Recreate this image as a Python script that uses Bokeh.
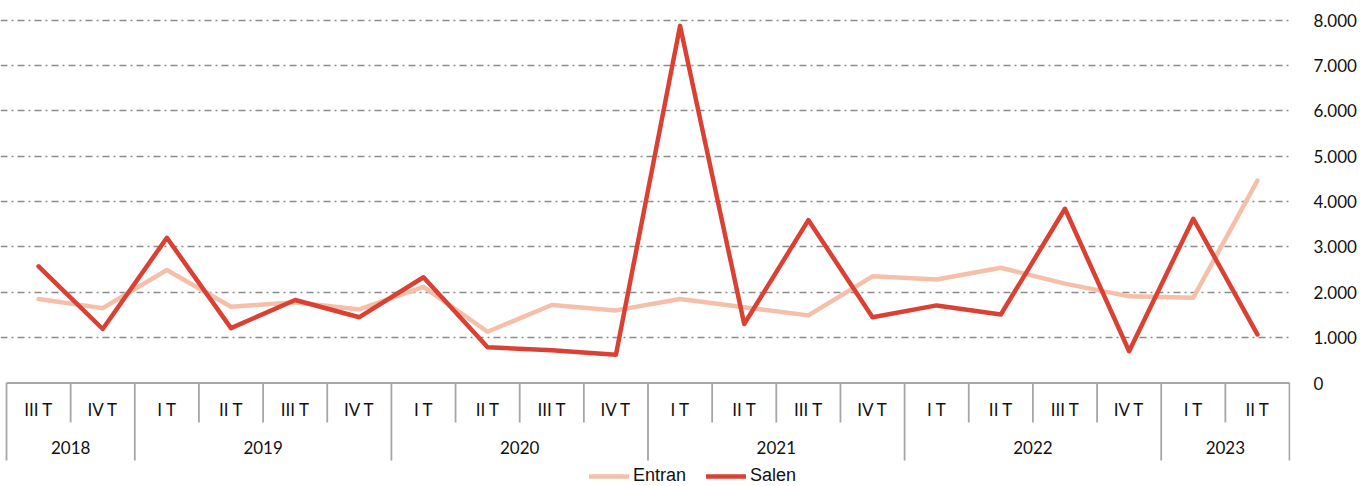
from bokeh.plotting import figure
from bokeh.models import Range1d, FixedTicker, Legend, LegendItem, ColumnDataSource
from bokeh.core.properties import value
from bokeh.embed import file_html
from bokeh.resources import INLINE

# ---------------- data ----------------
quarters = ["III T", "IV T",
            "I T", "II T", "III T", "IV T",
            "I T", "II T", "III T", "IV T",
            "I T", "II T", "III T", "IV T",
            "I T", "II T", "III T", "IV T",
            "I T", "II T"]
years = ["2018", "2018",
         "2019", "2019", "2019", "2019",
         "2020", "2020", "2020", "2020",
         "2021", "2021", "2021", "2021",
         "2022", "2022", "2022", "2022",
         "2023", "2023"]
entran = [1850, 1650, 2490, 1680, 1780, 1620, 2120, 1130, 1720, 1600,
          1850, 1670, 1490, 2350, 2280, 2540, 2190, 1910, 1880, 4460]
salen = [2570, 1190, 3200, 1210, 1830, 1450, 2330, 790, 720, 620,
         7870, 1300, 3590, 1450, 1710, 1510, 3840, 700, 3620, 1070]
series_names = ["Entran", "Salen"]
y_ticks = [0, 1000, 2000, 3000, 4000, 5000, 6000, 7000, 8000]
y_tick_labels = ["0", "1.000", "2.000", "3.000", "4.000", "5.000", "6.000", "7.000", "8.000"]

# ---------------- styling / geometry ----------------
C_ENTRAN = "#F5BFA9"
C_SALEN = "#DB4132"
C_GRID = "#8C8C8C"
C_BOX = "#A6A6A6"
FONT = "Lato"

W, H = 1369, 486
TOP_BORDER = 6
FRAME_RIGHT = 1290
RIGHT_BORDER = W - FRAME_RIGHT
frame_top = TOP_BORDER             # page px
frame_bot = H                      # page px
zero_px = 382.5                    # page px of value 0
px_per_unit = 0.045375             # pixels per unit value
cat_left, cat_right = 6, 1289      # page px of category box edges

y_start = (zero_px - frame_bot) / px_per_unit
y_end = (zero_px - frame_top) / px_per_unit

n = len(quarters)
xs = [i + 0.5 for i in range(n)]
cat_w = (cat_right - cat_left) / n
x_start = -cat_left / cat_w
x_end = n + (FRAME_RIGHT - cat_right) / cat_w

p = figure(width=W, height=H, output_backend="svg", toolbar_location=None,
           x_range=Range1d(x_start, x_end), y_range=Range1d(y_start, y_end),
           x_axis_location=None, y_axis_location="right",
           min_border_left=0, min_border_top=TOP_BORDER, min_border_bottom=0,
           min_border_right=RIGHT_BORDER)
p.extra_y_ranges = {"px": Range1d(start=frame_bot, end=frame_top)}
p.outline_line_color = None
p.background_fill_color = "white"
p.border_fill_color = "white"

# grid
p.xgrid.visible = False
p.ygrid.ticker = FixedTicker(ticks=y_ticks[1:])
p.ygrid.grid_line_color = C_GRID
p.ygrid.grid_line_width = 1.3
p.ygrid.grid_line_dash = "7 4 2 4"

# right axis
ax = p.yaxis[0]
ax.ticker = FixedTicker(ticks=y_ticks)
ax.major_label_overrides = {t: l for t, l in zip(y_ticks, y_tick_labels)}
ax.major_tick_line_color = None
ax.minor_tick_line_color = None
ax.axis_line_color = None
ax.major_label_standoff = 17
ax.major_label_text_font = FONT
ax.major_label_text_font_size = "17px"
ax.major_label_text_color = "#111111"

# category box (drawn in page-pixel y units)
box_top = zero_px
q_sep_bot = 422
y_sep_bot = 460
bounds = [0] + [i for i in range(1, n) if years[i] != years[i - 1]] + [n]
q_seps = [i for i in range(1, n) if i not in bounds]

p.segment(x0=[0], y0=[box_top], x1=[n], y1=[box_top], y_range_name="px",
          line_color=C_BOX, line_width=1.8)
p.segment(x0=q_seps, y0=[box_top] * len(q_seps), x1=q_seps, y1=[q_sep_bot] * len(q_seps),
          y_range_name="px", line_color=C_BOX, line_width=1.8)
p.segment(x0=bounds, y0=[box_top] * len(bounds), x1=bounds, y1=[y_sep_bot] * len(bounds),
          y_range_name="px", line_color=C_BOX, line_width=1.8)

q_src = ColumnDataSource(dict(x=xs, y=[409] * n, t=quarters))
p.text(x="x", y="y", text="t", source=q_src, y_range_name="px",
       text_font=value(FONT), text_font_size=value("17px"), text_color="#111111",
       text_align="center", text_baseline="middle")

yl = [years[bounds[k]] for k in range(len(bounds) - 1)]
yx = [(bounds[k] + bounds[k + 1]) / 2 for k in range(len(bounds) - 1)]
y_src = ColumnDataSource(dict(x=yx, y=[446.5] * len(yx), t=yl))
p.text(x="x", y="y", text="t", source=y_src, y_range_name="px",
       text_font=value(FONT), text_font_size=value("17px"), text_color="#111111",
       text_align="center", text_baseline="middle")

# series
r1 = p.line(xs, entran, line_color=C_ENTRAN, line_width=4.5, line_join="round", line_cap="round")
r2 = p.line(xs, salen, line_color=C_SALEN, line_width=4.5, line_join="round", line_cap="round")

legend = Legend(items=[LegendItem(label=series_names[0], renderers=[r1]),
                       LegendItem(label=series_names[1], renderers=[r2])],
                orientation="horizontal", location=(589, 0),
                glyph_width=40, glyph_height=18, label_standoff=4, spacing=20,
                padding=0, margin=0, border_line_color=None, background_fill_alpha=0,
                label_text_font="Liberation Sans", label_text_font_size="18px",
                label_text_color="#111111")
p.add_layout(legend)

open("out.html", "w").write(file_html(p, INLINE))
